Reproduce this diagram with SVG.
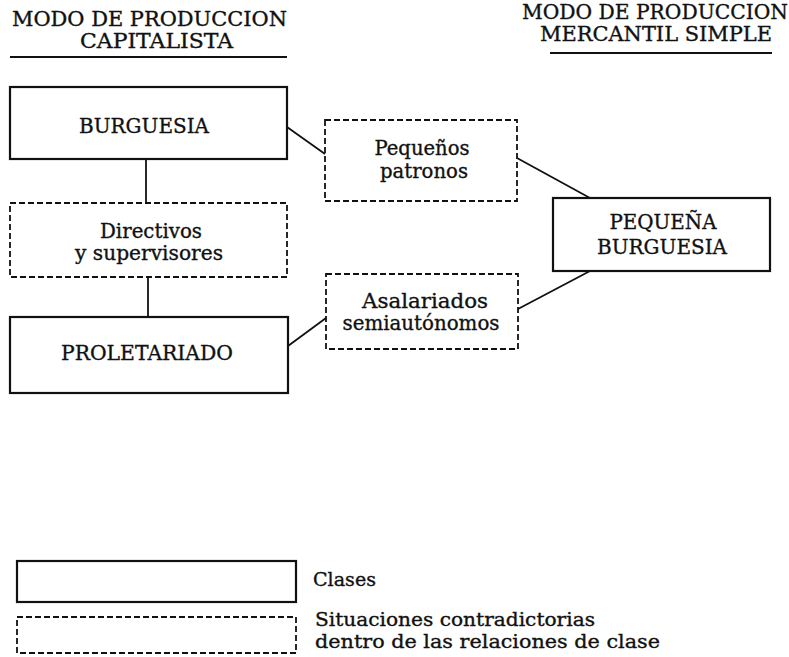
<svg xmlns="http://www.w3.org/2000/svg" width="789" height="657" viewBox="0 0 789 657">
<style>
text{font-family:"DejaVu Serif","Liberation Serif",serif;fill:#111;stroke:#111;stroke-width:0.35;text-anchor:middle}
.t{font-size:20px}
.cap{font-size:20px}
.low{font-size:20px}
.solid{fill:none;stroke:#111;stroke-width:2.2}
.dash{fill:none;stroke:#111;stroke-width:1.8;stroke-dasharray:6 3}
.rule{stroke:#111;stroke-width:2.2}
.conn line{stroke:#111;stroke-width:1.8}
.leg{text-anchor:start;font-size:19px}
</style>
<rect width="789" height="657" fill="#fff"/>
<g id="title-left">
<text class="t" x="149.5" y="26" textLength="275" lengthAdjust="spacingAndGlyphs">MODO DE PRODUCCION</text>
<text class="t" x="156.5" y="48" textLength="153" lengthAdjust="spacingAndGlyphs">CAPITALISTA</text>
<line class="rule" x1="10" y1="57" x2="287" y2="57"/>
</g>
<g id="title-right">
<text class="t" x="655" y="19" textLength="266" lengthAdjust="spacingAndGlyphs">MODO DE PRODUCCION</text>
<text class="t" x="656" y="41" textLength="232" lengthAdjust="spacingAndGlyphs">MERCANTIL SIMPLE</text>
<line class="rule" x1="550" y1="53" x2="772" y2="53"/>
</g>
<g class="conn" id="connectors">
<line x1="146" y1="159" x2="146" y2="203"/>
<line x1="148" y1="277" x2="148" y2="317"/>
<line x1="287" y1="127" x2="325" y2="154"/>
<line x1="517" y1="158" x2="590" y2="198"/>
<line x1="288" y1="346" x2="326" y2="318"/>
<line x1="518" y1="309" x2="590" y2="271"/>
</g>
<g id="burguesia">
<rect class="solid" x="10" y="87" width="277" height="72"/>
<text class="cap" x="144" y="133" textLength="130" lengthAdjust="spacingAndGlyphs">BURGUESIA</text>
</g>
<g id="directivos">
<rect class="dash" x="10" y="203" width="277" height="74"/>
<text class="low" x="151" y="238" textLength="102" lengthAdjust="spacingAndGlyphs">Directivos</text>
<text class="low" x="149" y="260" textLength="148" lengthAdjust="spacingAndGlyphs">y  supervisores</text>
</g>
<g id="proletariado">
<rect class="solid" x="10" y="317" width="278" height="76"/>
<text class="cap" x="147" y="360" textLength="172" lengthAdjust="spacingAndGlyphs">PROLETARIADO</text>
</g>
<g id="pequenos-patronos">
<rect class="dash" x="325" y="120" width="192" height="81"/>
<text class="low" x="422" y="155" textLength="95" lengthAdjust="spacingAndGlyphs">Pequeños</text>
<text class="low" x="424" y="178" textLength="88" lengthAdjust="spacingAndGlyphs">patronos</text>
</g>
<g id="asalariados">
<rect class="dash" x="326" y="274" width="192" height="75"/>
<text class="low" x="425" y="308" textLength="126" lengthAdjust="spacingAndGlyphs">Asalariados</text>
<text class="low" x="421" y="330" textLength="157" lengthAdjust="spacingAndGlyphs">semiautónomos</text>
</g>
<g id="pequena-burguesia">
<rect class="solid" x="553" y="198" width="217" height="73"/>
<text class="cap" x="663" y="229" textLength="107" lengthAdjust="spacingAndGlyphs">PEQUEÑA</text>
<text class="cap" x="662" y="254" textLength="130" lengthAdjust="spacingAndGlyphs">BURGUESIA</text>
</g>
<g id="legend-clases">
<rect class="solid" x="17" y="561" width="279" height="41"/>
<text class="leg" x="313" y="586" textLength="63" lengthAdjust="spacingAndGlyphs">Clases</text>
</g>
<g id="legend-situaciones">
<rect class="dash" x="17" y="617" width="279" height="36"/>
<text class="leg" x="315" y="626" textLength="280" lengthAdjust="spacingAndGlyphs">Situaciones  contradictorias</text>
<text class="leg" x="315" y="648" textLength="345" lengthAdjust="spacingAndGlyphs">dentro de las relaciones de clase</text>
</g>
</svg>
